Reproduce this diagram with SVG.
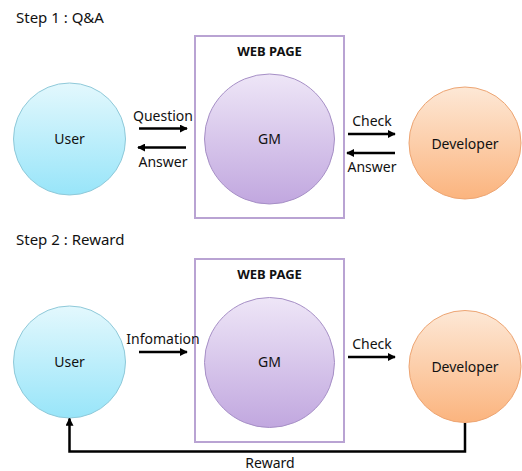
<svg xmlns="http://www.w3.org/2000/svg" width="522" height="471" viewBox="0 0 522 471">
<style>
text{font-family:"Noto Sans","Open Sans","DejaVu Sans",sans-serif;font-size:14px;fill:#111}
.h{font-size:15px}
.b{font-weight:bold;font-size:13px}
.box{fill:#fff;stroke:#b9a3d3;stroke-width:2}
.user{fill:url(#gU);stroke:#8fc9d9;stroke-width:1}
.gm{fill:url(#gG);stroke:#a68fc6;stroke-width:1}
.dev{fill:url(#gD);stroke:#eda573;stroke-width:1}
.ln{stroke:#000;stroke-width:2.5;fill:none}
</style>
<defs>
<linearGradient id="gU" x1="0" y1="0" x2="0" y2="1"><stop offset="0" stop-color="#e3f8fd"/><stop offset="1" stop-color="#98e5f9"/></linearGradient>
<linearGradient id="gG" x1="0" y1="0" x2="0" y2="1"><stop offset="0" stop-color="#eee6f7"/><stop offset="1" stop-color="#c1a7df"/></linearGradient>
<linearGradient id="gD" x1="0" y1="0" x2="0" y2="1"><stop offset="0" stop-color="#fde8d6"/><stop offset="1" stop-color="#fbb47e"/></linearGradient>
<marker id="ah" viewBox="0 0 10 10" refX="9" refY="5" markerWidth="3.2" markerHeight="3.2" orient="auto" markerUnits="strokeWidth"><path d="M0,0L10,5L0,10z" fill="#000"/></marker>
</defs>
<text class="h" x="16" y="23">Step 1 : Q&amp;A</text>
<text class="h" x="16" y="245">Step 2 : Reward</text>
<g id="webpage1"><rect class="box" x="195" y="36" width="149" height="182"/><text class="b" x="269.5" y="56" text-anchor="middle">WEB PAGE</text></g>
<g id="webpage2"><rect class="box" x="195" y="259" width="149" height="183"/><text class="b" x="269.5" y="279" text-anchor="middle">WEB PAGE</text></g>
<g id="user1"><circle class="user" cx="69.5" cy="139" r="56"/><text x="69.5" y="144" text-anchor="middle">User</text></g>
<g id="gm1"><circle class="gm" cx="269.5" cy="139" r="65"/><text x="269.5" y="144" text-anchor="middle">GM</text></g>
<g id="dev1"><circle class="dev" cx="465" cy="143" r="56"/><text x="465" y="149" text-anchor="middle">Developer</text></g>
<g id="user2"><circle class="user" cx="69.5" cy="362" r="56"/><text x="69.5" y="367" text-anchor="middle">User</text></g>
<g id="gm2"><circle class="gm" cx="269.5" cy="362.5" r="65"/><text x="269.5" y="367" text-anchor="middle">GM</text></g>
<g id="dev2"><circle class="dev" cx="465" cy="366.5" r="56"/><text x="465" y="372" text-anchor="middle">Developer</text></g>
<g id="connectors">
<line class="ln" x1="139" y1="128.5" x2="187" y2="128.5" marker-end="url(#ah)"/>
<line class="ln" x1="186" y1="147.5" x2="138" y2="147.5" marker-end="url(#ah)"/>
<line class="ln" x1="348" y1="134" x2="395" y2="134" marker-end="url(#ah)"/>
<line class="ln" x1="395" y1="153" x2="347" y2="153" marker-end="url(#ah)"/>
<line class="ln" x1="139" y1="352" x2="187" y2="352" marker-end="url(#ah)"/>
<line class="ln" x1="348" y1="357" x2="395" y2="357" marker-end="url(#ah)"/>
<path class="ln" d="M465,423 V451.5 H69.5 V418.5" marker-end="url(#ah)"/>
<text x="163" y="121" text-anchor="middle">Question</text>
<text x="163" y="167" text-anchor="middle">Answer</text>
<text x="372" y="126" text-anchor="middle">Check</text>
<text x="372" y="172" text-anchor="middle">Answer</text>
<text x="163" y="344" text-anchor="middle">Infomation</text>
<text x="372" y="349" text-anchor="middle">Check</text>
<text x="270" y="468" text-anchor="middle">Reward</text>
</g>
</svg>
